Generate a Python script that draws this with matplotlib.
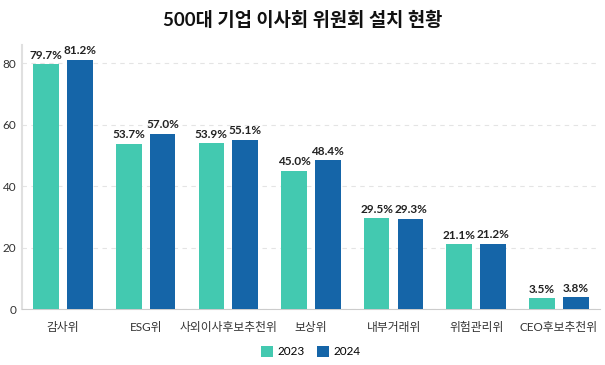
import matplotlib.pyplot as plt
import numpy as np

plt.rcParams['font.family'] = ['Lato', 'Noto Sans CJK KR', 'DejaVu Sans']

# data
categories = ["감사위", "ESG위", "사외이사후보추천위", "보상위", "내부거래위", "위험관리위", "CEO후보추천위"]
values_2023 = [79.7, 53.7, 53.9, 45.0, 29.5, 21.1, 3.5]
values_2024 = [81.2, 57.0, 55.1, 48.4, 29.3, 21.2, 3.8]
years = ["2023", "2024"]

col_2023 = "#43C9B0"
col_2024 = "#1565A8"

fig = plt.figure(figsize=(6.05, 3.65), dpi=100)
ax = fig.add_axes([0.036, 0.1534, 0.956, 0.7236])

x = np.arange(len(categories))
w = 0.31
off = 0.205
b1 = ax.bar(x - off, values_2023, w, color=col_2023, label=years[0], zorder=3)
b2 = ax.bar(x + off, values_2024, w, color=col_2024, label=years[1], zorder=3)

for bars, vals in [(b1, values_2023), (b2, values_2024)]:
    for r, v in zip(bars, vals):
        ax.text(r.get_x() + r.get_width() / 2, v + 1.2, f"{v:.1f}%",
                ha="center", va="bottom", fontsize=8.5, fontweight="bold", color="#222222")

ax.set_xlim(-0.5, len(categories) - 0.5)
ax.set_ylim(0, 86)
ax.set_yticks([0, 20, 40, 60, 80])
ax.set_xticks(x)
ax.set_xticklabels(categories)
ax.tick_params(axis="both", length=0, labelsize=8.5, colors="#333333")
ax.tick_params(axis="x", pad=9)
ax.tick_params(axis="y", pad=4)

ax.grid(axis="y", linestyle=(0, (4, 4)), color="#e4e4e4", linewidth=0.8, zorder=0)
ax.spines["top"].set_visible(False)
ax.spines["right"].set_visible(False)
ax.spines["left"].set_color("#e0e0e0")
ax.spines["left"].set_linewidth(1.5)
ax.spines["bottom"].set_color("#cccccc")

fig.text(0.5, 0.945, "500대 기업 이사회 위원회 설치 현황", ha="center", va="center",
         fontsize=13.5, fontweight="bold", color="#111111")

ax.legend(loc="upper center", bbox_to_anchor=(0.5, -0.1), ncol=2, frameon=False,
          fontsize=8.5, handlelength=1.0, handleheight=1.0, columnspacing=1.0, handletextpad=0.4)

fig.savefig("out.png", dpi=100)
